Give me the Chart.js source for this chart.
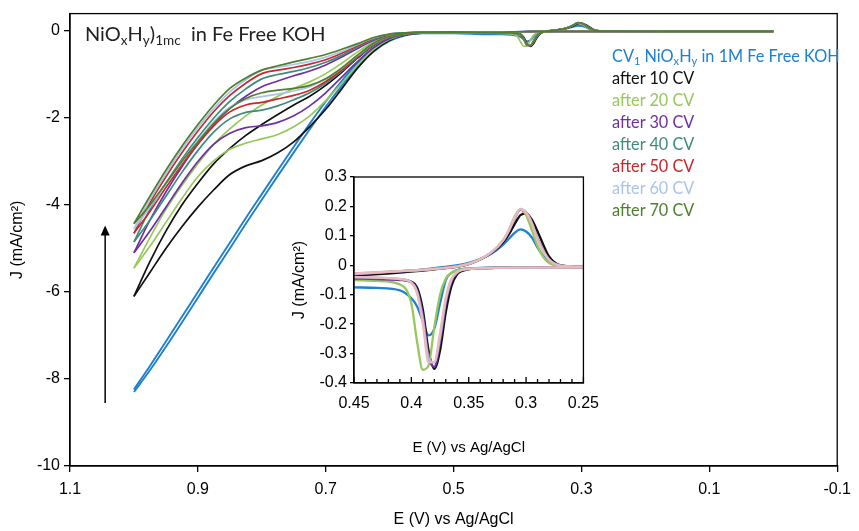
<!DOCTYPE html>
<html>
<head>
<meta charset="utf-8">
<script src="https://cdn.jsdelivr.net/npm/chart.js@4.4.1/dist/chart.umd.min.js"></script>
<style>
  html, body { margin: 0; padding: 0; background: #fff; }
  #wrap { position: relative; width: 859px; height: 531px; overflow: hidden; }
  #main { position: absolute; left: 0; top: 0; }
  #inset { position: absolute; left: 290px; top: 160px; }
  .note { position: absolute; font-family: Lato, "Open Sans", sans-serif; white-space: nowrap; }
  .note sub { font-size: 68%; line-height: 0; vertical-align: -0.3em; }
  #title { left: 85px; top: 21px; font-size: 20px; line-height: 24px; color: #222; }
  #legend { left: 612px; top: 45px; font-size: 16.3px; line-height: 22px; }
</style>
</head>
<body>
<div id="wrap">
  <canvas id="main" width="859" height="531"></canvas>
  <canvas id="inset" width="320" height="300"></canvas>
  <div class="note" id="title">NiO<sub>x</sub>H<sub>y</sub>)<sub>1mc</sub>&nbsp; in Fe Free KOH</div>
  <div class="note" id="legend"></div>
</div>
<script>
// ---- data ----
var X_TICKS = [1.1, 0.9, 0.7, 0.5, 0.3, 0.1, -0.1];
var Y_TICKS = [0, -2, -4, -6, -8, -10];
var INSET_X_TICKS = [0.45, 0.4, 0.35, 0.3, 0.25];
var INSET_Y_TICKS = [0.3, 0.2, 0.1, 0, -0.1, -0.2, -0.3, -0.4];

var LABELS = ["CV<sub>1</sub> NiO<sub>x</sub>H<sub>y</sub> in 1M Fe Free KOH", "after 10 CV", "after 20 CV",
  "after 30 CV", "after 40 CV", "after 50 CV", "after 60 CV", "after 70 CV"];
var COLORS = ["#2080d0", "#111111", "#96c85c", "#7030a0", "#3e8b7c", "#c8282e", "#a9c4e6", "#4e7f2e"];

// potential grid of the OER part (V)
var E_OER = [0.5, 0.55, 0.575, 0.6, 0.625, 0.65, 0.675, 0.7, 0.725, 0.75, 0.775, 0.8, 0.825, 0.85, 0.875, 0.9, 0.925, 0.95, 0.975, 1.0];
// upper (reverse) and lower (forward) branches, mA/cm2
var CV1_UP = [-0.03, -0.04, -0.08, -0.19, -0.4, -0.73, -1.15, -1.62, -2.13, -2.66, -3.2, -3.75, -4.3, -4.87, -5.43, -6.0, -6.57, -7.14, -7.7, -8.24];
var CV1_DN = [-0.05, -0.05, -0.1, -0.23, -0.47, -0.82, -1.26, -1.74, -2.26, -2.79, -3.33, -3.88, -4.43, -5.0, -5.56, -6.13, -6.7, -7.26, -7.8, -8.3];
var CV10_UP = [-0.03, -0.04, -0.07, -0.15, -0.33, -0.62, -0.95, -1.25, -1.5, -1.7, -1.92, -2.15, -2.4, -2.7, -3.05, -3.5, -4.0, -4.6, -5.3, -6.1];
var CV10_DN = [-0.04, -0.05, -0.09, -0.21, -0.46, -0.85, -1.33, -1.8, -2.2, -2.55, -2.8, -2.98, -3.1, -3.3, -3.65, -4.05, -4.5, -5.0, -5.55, -6.1];
var CV20_UP = [-0.03, -0.03, -0.05, -0.11, -0.25, -0.48, -0.74, -0.98, -1.17, -1.32, -1.5, -1.7, -1.95, -2.25, -2.6, -3.05, -3.55, -4.1, -4.75, -5.45];
var CV20_DN = [-0.04, -0.05, -0.08, -0.19, -0.42, -0.78, -1.2, -1.6, -1.95, -2.2, -2.38, -2.48, -2.58, -2.72, -2.98, -3.35, -3.85, -4.4, -4.95, -5.45];
var CV30_UP = [-0.03, -0.03, -0.05, -0.09, -0.21, -0.4, -0.6, -0.78, -0.92, -1.03, -1.15, -1.28, -1.5, -1.78, -2.15, -2.6, -3.12, -3.7, -4.35, -5.1];
var CV30_DN = [-0.04, -0.05, -0.08, -0.17, -0.38, -0.7, -1.06, -1.42, -1.72, -1.95, -2.1, -2.18, -2.22, -2.35, -2.6, -3.0, -3.5, -4.05, -4.6, -5.1];
var CV40_UP = [-0.03, -0.03, -0.04, -0.08, -0.19, -0.37, -0.56, -0.72, -0.84, -0.93, -1.0, -1.1, -1.33, -1.62, -2.0, -2.45, -2.95, -3.5, -4.1, -4.85];
var CV40_DN = [-0.04, -0.04, -0.07, -0.14, -0.32, -0.6, -0.92, -1.2, -1.42, -1.58, -1.72, -1.82, -1.87, -2.02, -2.32, -2.75, -3.25, -3.8, -4.35, -4.85];
var CV50_UP = [-0.03, -0.03, -0.04, -0.08, -0.17, -0.34, -0.51, -0.66, -0.76, -0.84, -0.9, -0.98, -1.2, -1.48, -1.85, -2.3, -2.8, -3.35, -3.95, -4.65];
var CV50_DN = [-0.04, -0.04, -0.07, -0.13, -0.3, -0.58, -0.9, -1.16, -1.36, -1.48, -1.56, -1.64, -1.7, -1.86, -2.18, -2.6, -3.08, -3.6, -4.15, -4.65];
var CV60_UP = [-0.03, -0.03, -0.04, -0.07, -0.16, -0.31, -0.47, -0.6, -0.7, -0.77, -0.83, -0.9, -1.12, -1.4, -1.78, -2.22, -2.72, -3.28, -3.88, -4.55];
var CV60_DN = [-0.04, -0.04, -0.06, -0.12, -0.29, -0.56, -0.86, -1.1, -1.28, -1.38, -1.45, -1.51, -1.58, -1.75, -2.08, -2.52, -3.0, -3.52, -4.05, -4.55];
var CV70_UP = [-0.02, -0.025, -0.04, -0.07, -0.15, -0.29, -0.42, -0.54, -0.63, -0.71, -0.8, -0.9, -1.08, -1.32, -1.7, -2.15, -2.65, -3.2, -3.8, -4.43];
var CV70_DN = [-0.04, -0.04, -0.06, -0.12, -0.28, -0.55, -0.85, -1.1, -1.25, -1.32, -1.36, -1.42, -1.55, -1.78, -2.12, -2.55, -3.0, -3.5, -4.0, -4.43];

// Ni redox region (inset), forward branch
var E_OX = [0.0, 0.15, 0.25, 0.3, 0.34, 0.355, 0.36, 0.365, 0.37, 0.375, 0.38, 0.385, 0.39, 0.395, 0.4, 0.41, 0.43, 0.45];
var OX_BLUE = [-0.008, -0.007, -0.006, -0.007, -0.009, -0.012, -0.016, -0.026, -0.05, -0.13, -0.215, -0.238, -0.19, -0.14, -0.112, -0.085, -0.077, -0.075];
var OX_BLACK = [-0.008, -0.008, -0.007, -0.008, -0.01, -0.018, -0.03, -0.07, -0.16, -0.29, -0.352, -0.29, -0.15, -0.075, -0.056, -0.048, -0.045, -0.043];
var OX_GREEN = [-0.008, -0.008, -0.007, -0.008, -0.01, -0.013, -0.017, -0.025, -0.045, -0.1, -0.21, -0.34, -0.355, -0.26, -0.13, -0.065, -0.053, -0.05];
var OX_PURPLE = [-0.008, -0.008, -0.007, -0.008, -0.01, -0.016, -0.025, -0.055, -0.13, -0.26, -0.345, -0.31, -0.17, -0.085, -0.058, -0.05, -0.047, -0.045];
var OX_LAVENDER = [-0.008, -0.008, -0.007, -0.008, -0.01, -0.015, -0.024, -0.05, -0.12, -0.245, -0.33, -0.315, -0.185, -0.09, -0.058, -0.046, -0.042, -0.04];
var OX_PINK = [-0.008, -0.008, -0.007, -0.008, -0.01, -0.015, -0.022, -0.045, -0.11, -0.23, -0.33, -0.33, -0.2, -0.095, -0.06, -0.047, -0.042, -0.04];
// reverse branch
var E_RED = [0.0, 0.15, 0.25, 0.27, 0.28, 0.285, 0.29, 0.295, 0.3, 0.305, 0.31, 0.315, 0.32, 0.33, 0.35, 0.38, 0.41, 0.45];
var RED_BLUE = [-0.008, -0.007, -0.005, -0.002, 0.012, 0.032, 0.06, 0.095, 0.115, 0.122, 0.11, 0.09, 0.07, 0.04, 0.008, -0.01, -0.022, -0.035];
var RED_BLACK = [-0.008, -0.007, -0.005, 0.0, 0.03, 0.07, 0.115, 0.155, 0.176, 0.17, 0.14, 0.105, 0.078, 0.042, 0.004, -0.014, -0.025, -0.035];
var RED_GREEN = [-0.008, -0.007, -0.005, -0.002, 0.008, 0.028, 0.065, 0.12, 0.17, 0.19, 0.165, 0.12, 0.085, 0.045, 0.006, -0.012, -0.02, -0.028];
var RED_PURPLE = [-0.008, -0.007, -0.005, -0.001, 0.02, 0.05, 0.09, 0.145, 0.18, 0.188, 0.158, 0.115, 0.083, 0.044, 0.005, -0.012, -0.021, -0.03];
var RED_LAVENDER = [-0.008, -0.007, -0.005, -0.001, 0.02, 0.05, 0.09, 0.145, 0.18, 0.192, 0.162, 0.118, 0.085, 0.045, 0.005, -0.012, -0.02, -0.03];
var RED_PINK = [-0.008, -0.007, -0.005, -0.002, 0.018, 0.045, 0.085, 0.14, 0.178, 0.19, 0.16, 0.118, 0.085, 0.045, 0.005, -0.012, -0.02, -0.028];

var INSET_COLORS = ["#2080d0", "#111111", "#96c85c", "#6f3aa0", "#bbb5df", "#e9bab7"];

// arrow drawn in data units
var ARROW_E = 1.045, ARROW_FROM = -8.55, ARROW_TO = -4.47;

// ---- helpers ----
function pts(e, j) {
  return e.map(function (v, i) { return { x: v, y: j[i] }; });
}

var series = [
  [CV1_UP, CV1_DN, OX_BLUE, RED_BLUE],
  [CV10_UP, CV10_DN, OX_BLACK, RED_BLACK],
  [CV20_UP, CV20_DN, OX_GREEN, RED_GREEN],
  [CV30_UP, CV30_DN, OX_PURPLE, RED_PURPLE],
  [CV40_UP, CV40_DN, OX_PINK, RED_PINK],
  [CV50_UP, CV50_DN, OX_PINK, RED_PINK],
  [CV60_UP, CV60_DN, OX_LAVENDER, RED_LAVENDER],
  [CV70_UP, CV70_DN, OX_LAVENDER, RED_LAVENDER]
];

var mainSets = [];
series.forEach(function (s, i) {
  var fwd = pts(E_OX, s[2]).concat(pts(E_OER, s[1]));
  var rev = pts(E_RED, s[3]).concat(pts(E_OER, s[0])).reverse();
  [fwd, rev].forEach(function (d) {
    mainSets.push({
      data: d, showLine: true, borderColor: COLORS[i], borderWidth: i == 0 ? 1.9 : 1.7,
      pointRadius: 0, cubicInterpolationMode: "monotone", order: 8 - i
    });
  });
});

var insetOx = [OX_BLUE, OX_BLACK, OX_GREEN, OX_PURPLE, OX_LAVENDER, OX_PINK];
var insetRed = [RED_BLUE, RED_BLACK, RED_GREEN, RED_PURPLE, RED_LAVENDER, RED_PINK];
var insetSets = [];
insetOx.forEach(function (ox, i) {
  [pts(E_OX, ox), pts(E_RED, insetRed[i])].forEach(function (d) {
    insetSets.push({
      data: d, showLine: true, borderColor: INSET_COLORS[i], borderWidth: 2.3,
      pointRadius: 0, cubicInterpolationMode: "monotone", order: 6 - i
    });
  });
});

document.getElementById("legend").innerHTML = LABELS.map(function (l, i) {
  return '<div style="color:' + COLORS[i] + '">' + l + "</div>";
}).join("");

// ---- plugins ----
var frame = {
  id: "frame",
  afterDraw: function (chart) {
    var a = chart.chartArea, ctx = chart.ctx;
    ctx.save();
    ctx.strokeStyle = "#000";
    ctx.lineWidth = 1.3;
    ctx.strokeRect(a.left, a.top, a.right - a.left, a.bottom - a.top);
    ctx.restore();
  }
};

var arrow = {
  id: "arrow",
  afterDatasetsDraw: function (chart) {
    var ctx = chart.ctx, x = chart.scales.x, y = chart.scales.y;
    var px = x.getPixelForValue(ARROW_E);
    var y0 = y.getPixelForValue(ARROW_FROM), y1 = y.getPixelForValue(ARROW_TO);
    ctx.save();
    ctx.strokeStyle = "#000";
    ctx.fillStyle = "#000";
    ctx.lineWidth = 1.5;
    ctx.beginPath();
    ctx.moveTo(px, y0);
    ctx.lineTo(px, y1 + 8);
    ctx.stroke();
    ctx.beginPath();
    ctx.moveTo(px, y1);
    ctx.lineTo(px - 4.5, y1 + 10);
    ctx.lineTo(px + 4.5, y1 + 10);
    ctx.closePath();
    ctx.fill();
    ctx.restore();
  }
};

var insetTicks = {
  id: "insetTicks",
  afterDraw: function (chart) {
    var ctx = chart.ctx, a = chart.chartArea, x = chart.scales.x;
    ctx.save();
    ctx.strokeStyle = "#000";
    ctx.lineWidth = 1.3;
    ctx.beginPath();
    for (var k = 25; k <= 45; k++) {
      var px = x.getPixelForValue(k / 100);
      ctx.moveTo(px, a.bottom);
      ctx.lineTo(px, a.bottom - (k % 5 == 0 ? 6 : 4));
    }
    ctx.stroke();
    ctx.restore();
  }
};

var ARIAL = "'Liberation Sans', Arial, sans-serif";

new Chart(document.getElementById("main"), {
  type: "scatter",
  data: { datasets: mainSets },
  options: {
    responsive: false, animation: false,
    layout: { padding: { top: 12, right: 18, left: 0, bottom: 0 } },
    plugins: { legend: { display: false }, tooltip: { enabled: false } },
    scales: {
      x: {
        type: "linear", reverse: true, min: -0.1, max: 1.1,
        afterBuildTicks: function (s) { s.ticks = X_TICKS.map(function (v) { return { value: v }; }); },
        afterFit: function (s) { s.height = 65; },
        grid: { drawOnChartArea: false, tickLength: 6, color: "#000", lineWidth: 1.3 },
        border: { color: "#000", width: 1.3 },
        ticks: { color: "#000", padding: 8, font: { family: ARIAL, size: 16 }, maxRotation: 0,
          callback: function (v) { return v.toFixed(1); } },
        title: { display: true, text: "E (V) vs Ag/AgCl", color: "#000",
          font: { family: ARIAL, size: 16 }, padding: { top: 0, bottom: 2 } }
      },
      y: {
        type: "linear", min: -10, max: 0.4,
        afterBuildTicks: function (s) { s.ticks = Y_TICKS.map(function (v) { return { value: v }; }); },
        afterFit: function (s) { s.width = 70; },
        grid: { drawOnChartArea: false, tickLength: 6, color: "#000", lineWidth: 1.3 },
        border: { color: "#000", width: 1.3 },
        ticks: { color: "#000", padding: 4, font: { family: ARIAL, size: 16 },
          callback: function (v) { return String(v); } },
        title: { display: true, text: "J (mA/cm\u00B2)", color: "#000",
          font: { family: ARIAL, size: 16 }, padding: { top: 8, bottom: 0 } }
      }
    }
  },
  plugins: [frame, arrow]
});

new Chart(document.getElementById("inset"), {
  type: "scatter",
  data: { datasets: insetSets },
  options: {
    responsive: false, animation: false,
    layout: { padding: { top: 17, right: 22, left: 0, bottom: 0 } },
    plugins: { legend: { display: false }, tooltip: { enabled: false } },
    scales: {
      x: {
        type: "linear", reverse: true, min: 0.25, max: 0.45,
        afterBuildTicks: function (s) { s.ticks = INSET_X_TICKS.map(function (v) { return { value: v }; }); },
        afterFit: function (s) { s.height = 77; },
        grid: { drawOnChartArea: false, drawTicks: false },
        border: { color: "#000", width: 1.3 },
        ticks: { color: "#000", padding: 11, font: { family: ARIAL, size: 16 }, maxRotation: 0,
          callback: function (v) { return String(v); } },
        title: { display: true, text: "E (V) vs Ag/AgCl", color: "#000",
          font: { family: ARIAL, size: 15 }, padding: { top: 0, bottom: 3 } }
      },
      y: {
        type: "linear", min: -0.4, max: 0.3,
        afterBuildTicks: function (s) { s.ticks = INSET_Y_TICKS.map(function (v) { return { value: v }; }); },
        afterFit: function (s) { s.width = 64; },
        grid: { drawOnChartArea: false, tickLength: 4, color: "#000", lineWidth: 1.3 },
        border: { color: "#000", width: 1.3 },
        ticks: { color: "#000", padding: 3, font: { family: ARIAL, size: 16 },
          callback: function (v) { return String(v); } },
        title: { display: true, text: "J (mA/cm\u00B2)", color: "#000",
          font: { family: ARIAL, size: 16 }, padding: { top: 0, bottom: 0 } }
      }
    }
  },
  plugins: [frame, insetTicks]
});
</script>
</body>
</html>
